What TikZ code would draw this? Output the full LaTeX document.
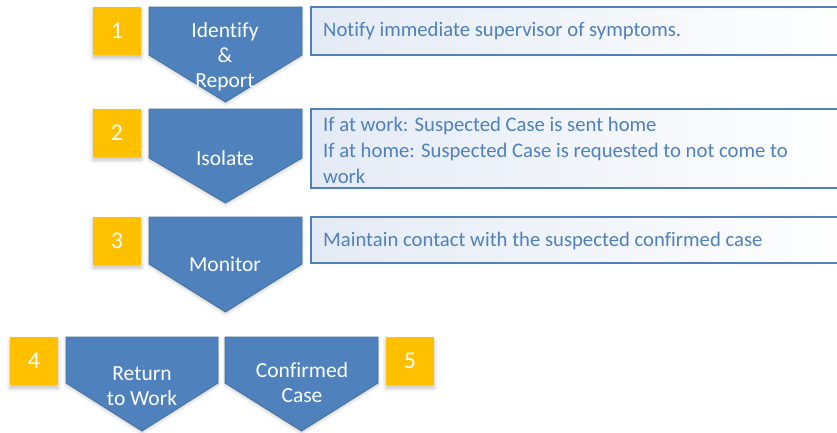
\documentclass[tikz,border=0pt]{standalone}
\usepackage{fontspec}
\setmainfont{Carlito}[Ligatures=NoCommon]
\usetikzlibrary{shadows.blur}
\definecolor{chevfill}{HTML}{4F81BD}
\definecolor{chevline}{HTML}{41719C}
\definecolor{numfill}{HTML}{FFC000}
\definecolor{boxline}{HTML}{4F81BD}
\definecolor{boxshade}{HTML}{E4EAF5}
\definecolor{boxtext}{HTML}{4F81BD}
\tikzset{
  chev/.style={fill=chevfill, draw=chevline, line width=0.8pt,
    blur shadow={shadow xshift=0pt, shadow yshift=-2pt, shadow blur radius=3pt, shadow opacity=20}},
  chevtext/.style={text=white, font=\fontsize{21.5}{25}\selectfont, align=center, inner sep=0pt},
  numbox/.style={fill=numfill, draw=none, minimum width=48pt, minimum height=48pt, inner sep=0pt,
    text=white, font=\fontsize{24}{25}\selectfont,
    blur shadow={shadow xshift=0pt, shadow yshift=-3pt, shadow blur radius=4pt, shadow opacity=25}},
  infobox/.style={draw=boxline, line width=1.2pt, left color=boxshade, right color=white},
  infotext/.style={text=boxtext, font=\fontsize{20.7}{26}\selectfont, align=left, anchor=west, inner sep=0pt},
}
\newcommand{\chevron}[5]{% x1, x2, top, rectbottom, tip
  \path[chev] (#1,#3) -- (#2,#3) -- (#2,#4) -- ({(#1+#2)/2},#5) -- (#1,#4) -- cycle;}
\begin{document}
\begin{tikzpicture}[x=1pt, y=-1pt]
\useasboundingbox (0,0) rectangle (837,432);
% chevrons
\chevron{149}{302}{7}{55}{102}
\chevron{149}{302}{109}{158}{203}
\chevron{149}{302}{217}{264}{312}
\chevron{66}{218}{337}{383}{431}
\chevron{225}{378}{337}{383}{431}
% chevron labels
\node[chevtext] (c1) at (225,57) {Identify\\\&\\Report};
\node[chevtext] (c2) at (225,158) {Isolate};
\node[chevtext] (c3) at (225,264) {Monitor};
\node[chevtext] (c4) at (142,386) {Return\\to Work};
\node[chevtext] (c5) at (302,383) {Confirmed\\Case};
% numbers
\node[numbox] (n1) at (117,31) {1};
\node[numbox] (n2) at (117,133) {2};
\node[numbox] (n3) at (117,241) {3};
\node[numbox] (n4) at (34,361) {4};
\node[numbox] (n5) at (410,361) {5};
% info boxes
\path[infobox] (311,7) rectangle (850,55);
\path[infobox] (311,109) rectangle (850,188);
\path[infobox] (311,217) rectangle (850,263);
\node[infotext] (t1) at (323,31) {Notify immediate supervisor of symptoms.};
\node[infotext] (t2) at (323,150) {If at work: Suspected Case is sent home\\If at home: Suspected Case is requested to not come to\\work};
\node[infotext] (t3) at (323,241) {Maintain contact with the suspected confirmed case};
\end{tikzpicture}
\end{document}
